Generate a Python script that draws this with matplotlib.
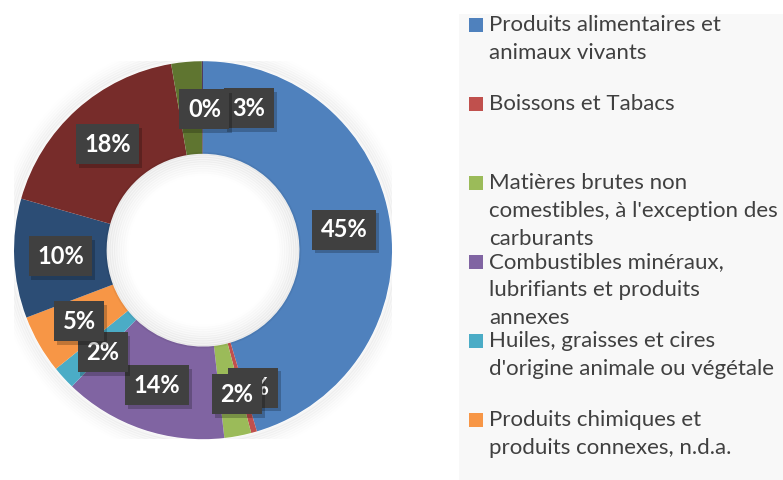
import matplotlib.pyplot as plt
from matplotlib.patches import Circle, Rectangle
import numpy as np

# share of each product group (%), clockwise from 12 o'clock
categories = ["Produits alimentaires et\nanimaux vivants",
              "Boissons et Tabacs",
              "Matières brutes non\ncomestibles, à l'exception des\ncarburants",
              "Combustibles minéraux,\nlubrifiants et produits\nannexes",
              "Huiles, graisses et cires\nd'origine animale ou végétale",
              "Produits chimiques et\nproduits connexes, n.d.a.",
              "Articles manufacturés",
              "Machines et matériel de transport",
              "Articles manufacturés divers",
              "Autres"]
values = [45.4, 0.5, 2.3, 14.0, 2.0, 5.0, 10.2, 17.9, 2.6, 0.1]
labels = ["45%", "0%", "2%", "14%", "2%", "5%", "10%", "18%", "3%", "0%"]
colors = ["#4F81BD", "#C0504D", "#9BBB59", "#8064A2", "#4BACC6",
          "#F79646", "#2C4D75", "#772C2A", "#5F7530", "#4D3B62"]

fig = plt.figure(figsize=(7.83, 4.80), dpi=100)
fig.patch.set_facecolor("white")
W, H = 783, 480

# legend panel background
fig.patches.append(Rectangle((459 / W, 0), 1, 1 - 14 / H, transform=fig.transFigure,
                             facecolor="#f8f8f8", edgecolor="none", zorder=0))

ax = fig.add_axes([0.0179, 0.085, 0.4828, 0.7875])

# soft outer shadow
for k in range(8):
    ax.add_patch(Circle((0, 0), 1.0 + 0.012 * (k + 1), facecolor="none",
                        edgecolor="#000000", linewidth=2.5, alpha=0.035 * (8 - k) / 8, zorder=0))

wedges, _ = ax.pie(values, colors=colors, startangle=90, counterclock=False, radius=1.0,
                   wedgeprops=dict(width=0.49, edgecolor="none"))
ax.set_xlim(-1, 1)
ax.set_ylim(-1, 1)
ax.set_aspect("equal")
ax.axis("off")

# inner hole shading
for k in range(10):
    ax.add_patch(Circle((0, 0), 0.51 - 0.012 * k, facecolor="none", edgecolor="#000000",
                        linewidth=2.5, alpha=0.05 * (10 - k) / 10, zorder=3))

# data labels at ring middle (a few nudged like the original's overlap handling)
r_lab = 0.755
nudge = {1: (0.06, 0.0), 2: (0.04, -0.02), 4: (0.025, -0.03), 8: (0.31, 0.0), 9: (0.01, -0.01)}
for i, (w, lab) in enumerate(zip(wedges, labels)):
    ang = np.deg2rad((w.theta1 + w.theta2) / 2)
    dx, dy = nudge.get(i, (0, 0))
    x, y = r_lab * np.cos(ang) + dx, r_lab * np.sin(ang) + dy
    ax.text(x + 0.015, y - 0.02, lab, ha="center", va="center", fontsize=17,
            fontweight="bold", family="Lato", color="none", zorder=4 + i * 0.01,
            bbox=dict(boxstyle="square,pad=0.36", facecolor="#000000", alpha=0.22, edgecolor="none"))
    ax.text(x, y, lab, ha="center", va="center", fontsize=17, fontweight="bold",
            family="Lato", color="white", zorder=4.005 + i * 0.01,
            bbox=dict(boxstyle="square,pad=0.36", facecolor="#404040", edgecolor="none"))

# legend (only the first six entries fit)
for i, (cat, col) in enumerate(zip(categories[:6], colors[:6])):
    ytop = 25 + i * 79
    fig.patches.append(Rectangle((469 / W, 1 - (ytop + 7) / H), 14 / W, 14 / H,
                                 transform=fig.transFigure, facecolor=col, edgecolor="none"))
    for j, line in enumerate(cat.split("\n")):
        fig.text(489 / W, 1 - (ytop + j * 28) / H, line, ha="left", va="center",
                 fontsize=16, family="Lato", color="#404040")

fig.savefig("out.png", dpi=100)
